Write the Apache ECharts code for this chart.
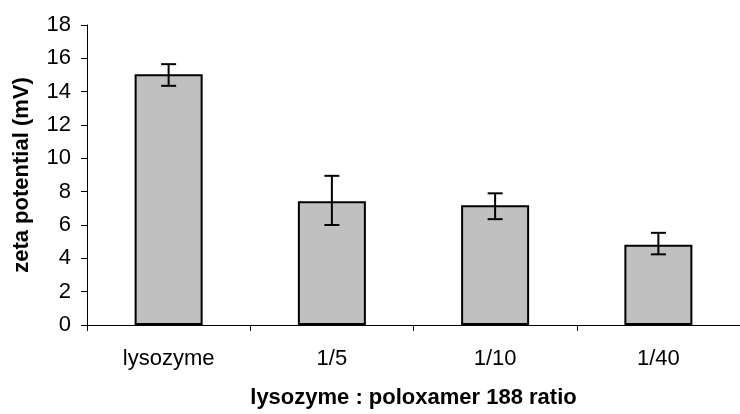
<!DOCTYPE html>
<html>
<head>
<meta charset="utf-8">
<script src="https://cdn.jsdelivr.net/npm/echarts@6/dist/echarts.min.js"></script>
<style>html,body{margin:0;padding:0;background:#fff}#c{width:740px;height:414px}</style>
</head>
<body>
<div id="c"></div>
<script>
var categories = ['lysozyme', '1/5', '1/10', '1/40'];
var zetaValues = [15.05, 7.43, 7.18, 4.82];
var errorLow = [14.35, 6.0, 6.35, 4.24];
var errorHigh = [15.65, 8.95, 7.9, 5.53];
var yTicks = [0, 2, 4, 6, 8, 10, 12, 14, 16, 18];

var errData = categories.map(function (c, i) { return [i, errorLow[i], errorHigh[i]]; });
var font = 'Arial, "Liberation Sans", sans-serif';
var chart = echarts.init(document.getElementById('c'));
chart.setOption({
  animation: false,
  grid: { left: 87, top: 25, width: 660, height: 306, containLabel: false },
  xAxis: {
    type: 'category',
    data: categories,
    name: 'lysozyme : poloxamer 188 ratio',
    nameLocation: 'middle',
    nameGap: 62,
    nameTextStyle: { fontFamily: font, fontSize: 22, fontWeight: 'bold', color: '#000' },
    axisLine: { lineStyle: { color: '#000', width: 1 } },
    axisTick: { show: true, length: 6, lineStyle: { color: '#000' } },
    axisLabel: { margin: 23, fontFamily: font, fontSize: 22, color: '#000' }
  },
  yAxis: {
    type: 'value',
    min: 0, max: 18, interval: 2,
    name: 'zeta potential (mV)',
    nameLocation: 'middle',
    nameRotate: 90,
    nameGap: 54,
    nameTextStyle: { fontFamily: font, fontSize: 22, fontWeight: 'bold', color: '#000' },
    axisLine: { show: true, lineStyle: { color: '#000', width: 1 } },
    axisTick: { show: true, length: 6, lineStyle: { color: '#000' } },
    splitLine: { show: false },
    axisLabel: {
      margin: 16, fontFamily: font, fontSize: 22, color: '#000',
      formatter: function (v) { return yTicks.indexOf(v) >= 0 ? String(v) : ''; }
    }
  },
  series: [
    {
      type: 'bar',
      data: zetaValues,
      barWidth: 68,
      itemStyle: { color: '#c0c0c0', borderColor: '#000', borderWidth: 2 }
    },
    {
      type: 'custom',
      data: errData,
      z: 10,
      renderItem: function (params, api) {
        var x = api.value(0);
        var lo = api.coord([x, api.value(1)]);
        var hi = api.coord([x, api.value(2)]);
        var hw = 7.5;
        var st = { stroke: '#000', lineWidth: 2 };
        return {
          type: 'group',
          children: [
            { type: 'line', shape: { x1: lo[0], y1: lo[1], x2: hi[0], y2: hi[1] }, style: st },
            { type: 'line', shape: { x1: lo[0] - hw, y1: lo[1], x2: lo[0] + hw, y2: lo[1] }, style: st },
            { type: 'line', shape: { x1: hi[0] - hw, y1: hi[1], x2: hi[0] + hw, y2: hi[1] }, style: st }
          ]
        };
      }
    }
  ]
});
</script>
</body>
</html>
